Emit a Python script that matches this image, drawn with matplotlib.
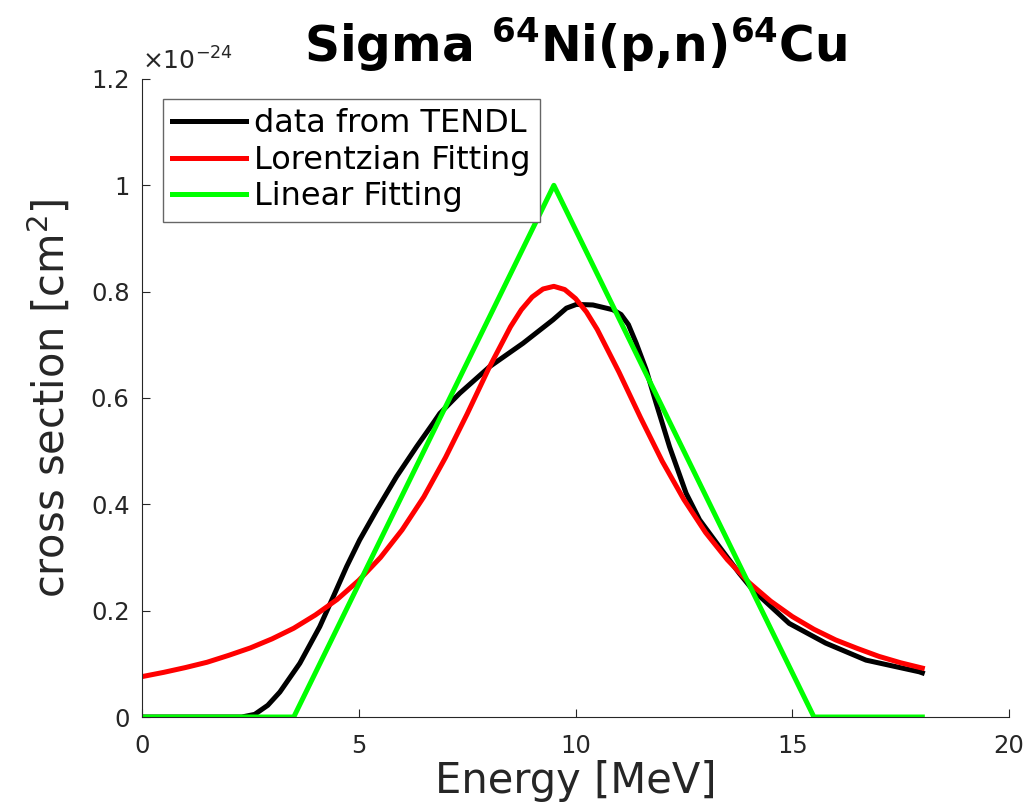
import matplotlib
matplotlib.use('Agg')
import matplotlib.pyplot as plt
from matplotlib.ticker import FuncFormatter

# cross sections in units of 1e-24 cm^2
tendl_E = [0.0, 1.0, 2.0, 2.3, 2.6, 2.9, 3.18, 3.64, 4.10, 4.41, 4.72, 5.02, 5.41, 5.87,
           6.33, 6.71, 6.87, 7.33, 8.02, 8.79, 9.48, 9.79, 10.02, 10.40, 10.86, 11.05,
           11.22, 11.40, 11.63, 11.86, 12.17, 12.55, 12.86, 13.32, 13.78, 14.09, 14.93,
           15.77, 16.70, 17.93, 18.0]
tendl_sig = [0.0, 0.0, 0.0, 0.0, 0.005, 0.022, 0.047, 0.101, 0.170, 0.226, 0.283, 0.333,
             0.389, 0.452, 0.508, 0.552, 0.571, 0.609, 0.659, 0.703, 0.747, 0.769, 0.776,
             0.775, 0.766, 0.757, 0.738, 0.703, 0.653, 0.590, 0.508, 0.421, 0.371, 0.320,
             0.270, 0.239, 0.176, 0.139, 0.107, 0.085, 0.083]

lor_E = [0.0, 0.5, 1.0, 1.5, 2.0, 2.5, 3.0, 3.5, 4.0, 4.5, 5.0, 5.5, 6.0, 6.5, 7.0, 7.5,
         8.0, 8.5, 8.75, 9.0, 9.25, 9.5, 9.75, 10.0, 10.25, 10.5, 11.0, 11.5, 12.0, 12.5,
         13.0, 13.5, 14.0, 14.5, 15.0, 15.5, 16.0, 16.5, 17.0, 17.5, 18.0]
lor_sig = [0.076, 0.084, 0.093, 0.103, 0.116, 0.130, 0.147, 0.167, 0.192, 0.221, 0.257,
           0.300, 0.352, 0.414, 0.488, 0.570, 0.656, 0.734, 0.766, 0.790, 0.805, 0.810,
           0.804, 0.787, 0.762, 0.729, 0.649, 0.563, 0.481, 0.409, 0.347, 0.296, 0.253,
           0.218, 0.189, 0.165, 0.145, 0.129, 0.114, 0.102, 0.092]

lin_E = [0.0, 3.5, 9.5, 15.5, 18.0]
lin_sig = [0.0, 0.0, 1.0, 0.0, 0.0]

plt.rcParams['font.family'] = 'DejaVu Sans'
plt.rcParams['axes.unicode_minus'] = False

fig = plt.figure(figsize=(10.27, 8.10), dpi=100)
ax = fig.add_axes([0.1383, 0.1148, 0.8442, 0.7877])

ax.plot(tendl_E, tendl_sig, color='black', lw=3.6, label='data from TENDL')
ax.plot(lor_E, lor_sig, color='#ff0000', lw=3.6, label='Lorentzian Fitting')
ax.plot(lin_E, lin_sig, color='#00ff00', lw=3.6, label='Linear Fitting')

ax.set_xlim(0, 20)
ax.set_ylim(0, 1.2)
ax.set_xticks([0, 5, 10, 15, 20])
ax.set_yticks([0, 0.2, 0.4, 0.6, 0.8, 1.0, 1.2])
ax.yaxis.set_major_formatter(FuncFormatter(lambda v, p: '%g' % round(v, 2)))

gray = '#262626'
for s in ['top', 'right']:
    ax.spines[s].set_visible(False)
for s in ['left', 'bottom']:
    ax.spines[s].set_color(gray)
    ax.spines[s].set_linewidth(0.8)
ax.tick_params(direction='in', length=6, width=0.8, colors=gray, labelsize=17.5)
ax.tick_params(axis='x', pad=12)
ax.tick_params(axis='y', pad=9)

ax.text(0.0, 1.014, r'$\times$10$^{-24}$', transform=ax.transAxes, fontsize=18,
        color=gray, ha='left', va='baseline')

ax.set_xlabel('Energy [MeV]', fontsize=30, color=gray, labelpad=2)
ax.set_ylabel(r'cross section [cm$^2$]', fontsize=30, color=gray, labelpad=12)
ax.set_title(r'Sigma $^{\mathbf{64}}$Ni(p,n)$^{\mathbf{64}}$Cu', fontsize=35,
             fontweight='bold', pad=12)

leg = ax.legend(loc='upper left', bbox_to_anchor=(0.024, 0.969), borderaxespad=0,
                fontsize=23, handlelength=2.3, handletextpad=0.25, fancybox=False,
                framealpha=1, edgecolor='#666666', borderpad=0.3, labelspacing=0.17)
leg.get_frame().set_linewidth(1.0)

plt.savefig('out.png', dpi=100)
